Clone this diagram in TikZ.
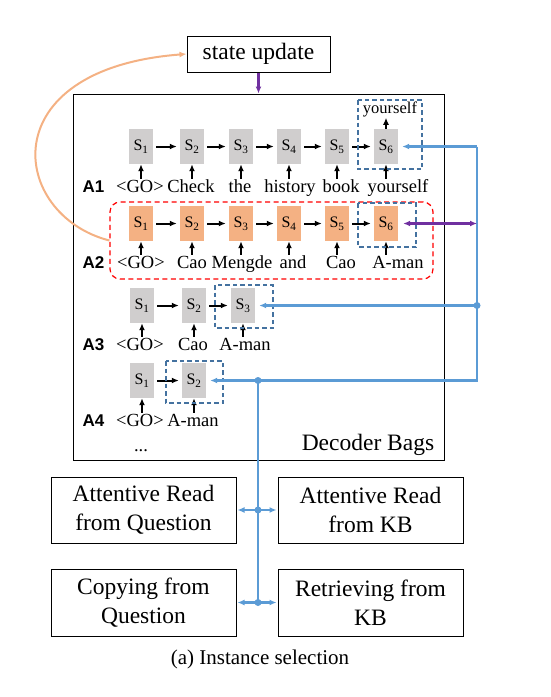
\documentclass[tikz,border=0pt]{standalone}
\usepackage{fontspec}
\setmainfont{Liberation Serif}
\newfontfamily\rowfont{Liberation Sans}
\usetikzlibrary{arrows.meta}

\definecolor{cellgray}{RGB}{208,206,206}
\definecolor{cellorange}{RGB}{244,177,131}
\definecolor{linkblue}{RGB}{91,155,213}
\definecolor{selblue}{RGB}{68,114,160}
\definecolor{updpurple}{RGB}{112,48,160}
\definecolor{loopred}{RGB}{255,0,0}

\begin{document}
\begin{tikzpicture}[> = {Latex[length = 7pt, width = 6pt]}, x = 1pt, y = -1pt,
	cell/.style = {fill = cellgray, minimum width = 24pt, minimum height = 35pt, inner sep = 0pt, font = \fontsize{16}{16}\selectfont},
	hot/.style = {cell, fill = cellorange},
	word/.style = {anchor = base, inner sep = 1pt, text height = 12pt, font = \fontsize{18.5}{20}\selectfont},
	rowlbl/.style = {anchor = base, inner sep = 0pt, font = \rowfont\bfseries\fontsize{17}{17}\selectfont},
	plain/.style = {draw, line width = 1pt, inner sep = 0pt, align = center, font = \fontsize{23.5}{29}\selectfont},
	link/.style = {->, line width = 2pt, shorten > = 3pt, shorten < = 3pt},
	feed/.style = {->, line width = 1.8pt},
	sel/.style = {selblue, line width = 1.5pt, dash pattern = on 4.5pt off 3pt},
	wire/.style = {linkblue, line width = 2.4pt}]

	\useasboundingbox (0, 0) rectangle (551, 697);

	% State update + decoder bags

	\node [plain, minimum width = 143pt, minimum height = 36pt] (upd) at (258.5, 54) {state update};
	\node [plain, minimum width = 371pt, minimum height = 366pt] (bags) at (258.5, 277) {};
	\node [anchor = base, inner sep = 0pt, font = \fontsize{23.5}{27}\selectfont] (baglbl) at (368, 450) {Decoder Bags};

	\draw [->, updpurple, line width = 2.4pt] (upd) -- (bags);

	% Row A1

	\node [rowlbl] (a1) at (93.5, 192) {A1};
	\foreach \x [count = \i] in {141, 192, 241, 289, 337, 386}
		\node [cell] (a1s\i) at (\x, 146.5) {S\textsubscript{\i}};
	\foreach \x/\w [count = \i] in {140/{<GO>}, 191/Check, 240/the, 290/history, 341/book, 398/yourself}
		\node [word] (a1w\i) at (\x, 192) {\w};
	\node [word, text height = 10pt, font = \fontsize{16.5}{18}\selectfont] (a1out) at (390, 113) {yourself};

	\foreach \i in {1, ..., 6}
		\draw [feed] (a1s\i.south |- a1w\i.north) -- (a1s\i.south);
	\foreach \i/\j in {1/2, 2/3, 3/4, 4/5, 5/6}
		\draw [link] (a1s\i) -- (a1s\j);
	\draw [feed] (a1s6.north) -- (a1s6.north |- a1out.south);

	% Row A2

	\node [draw = loopred, line width = 1.2pt, dash pattern = on 5pt off 3.5pt, rounded corners = 10pt,
		minimum width = 323pt, minimum height = 77pt] (a2bag) at (271.5, 240.5) {};
	\node [rowlbl] (a2) at (93.5, 268) {A2};
	\foreach \x [count = \i] in {141, 192, 241, 289, 337, 386}
		\node [hot] (a2s\i) at (\x, 223.5) {S\textsubscript{\i}};
	\foreach \x/\w [count = \i] in {141/{<GO>}, 192/Cao, 242/Mengde, 293/and, 341/Cao, 398/A-man}
		\node [word] (a2w\i) at (\x, 268) {\w};

	\foreach \i in {1, ..., 6}
		\draw [feed] (a2s\i.south |- a2w\i.north) -- (a2s\i.south);
	\foreach \i/\j in {1/2, 2/3, 3/4, 4/5, 5/6}
		\draw [link] (a2s\i) -- (a2s\j);

	% Rows A3 + A4

	\node [rowlbl] (a3) at (93.5, 350) {A3};
	\foreach \x [count = \i] in {142, 194, 243}
		\node [cell] (a3s\i) at (\x, 305.5) {S\textsubscript{\i}};
	\foreach \x/\w [count = \i] in {140/{<GO>}, 193/Cao, 245/A-man}
		\node [word] (a3w\i) at (\x, 350) {\w};

	\node [rowlbl] (a4) at (93.5, 426) {A4};
	\foreach \x [count = \i] in {142, 194}
		\node [cell] (a4s\i) at (\x, 380.5) {S\textsubscript{\i}};
	\foreach \x/\w [count = \i] in {140/{<GO>}, 193/A-man}
		\node [word] (a4w\i) at (\x, 426) {\w};
	\node [word] (a5) at (141, 451) {...};

	\foreach \i in {1, 2, 3}
		\draw [feed] (a3s\i.south |- a3w\i.north) -- (a3s\i.south);
	\foreach \i in {1, 2}
		\draw [feed] (a4s\i.south |- a4w\i.north) -- (a4s\i.south);
	\draw [link] (a3s1) -- (a3s2);
	\draw [link] (a3s2) -- (a3s3);
	\draw [link] (a4s1) -- (a4s2);

	% Selected instances

	\draw [sel] (358, 100) rectangle (422, 169);
	\draw [sel] (358, 203) rectangle (416, 247);
	\draw [sel] (215, 285) rectangle (273, 328);
	\draw [sel] (166, 361) rectangle (223, 403);

	% Loop back to the state update

	\draw [->, cellorange, line width = 2pt] (a2bag.west) .. controls (10, 215) and (-10, 69) .. (upd.west);

	% Read / copy / retrieve modules

	\node [plain, minimum width = 185pt, minimum height = 66pt] (arq) at (143.5, 510) {Attentive Read\\from Question};
	\node [plain, minimum width = 185pt, minimum height = 66pt] (ark) at (370.5, 510) {Attentive Read\\from KB};
	\node [plain, minimum width = 185pt, minimum height = 67pt] (cpq) at (143.5, 602.5) {Copying from\\Question};
	\node [plain, minimum width = 185pt, minimum height = 67pt] (rtk) at (370.5, 602.5) {Retrieving from\\KB};

	\node [font = \fontsize{21}{24}\selectfont] (cap) at (260, 659) {(a) Instance selection};

	% Blue wiring

	\coordinate (hub1) at (477, 146.5);
	\coordinate (hub2) at (477, 223.5);
	\coordinate (hub3) at (477, 305.5);
	\coordinate (hub4) at (477, 380.5);
	\coordinate (hub5) at (258, 380.5);
	\coordinate (hub6) at (258, 510);
	\coordinate (hub7) at (258, 602.5);

	\draw [wire] (hub1) -- (hub4) -- (hub5) -- (hub7);
	\draw [wire, ->, shorten > = 4pt] (hub1) -- (a1s6.east);
	\draw [wire, ->, shorten > = 4pt] (hub3) -- (a3s3.east);
	\draw [wire, ->, shorten > = 4pt] (hub5) -- (a4s2.east);
	\draw [wire, <->, shorten > = 1pt, shorten < = 1pt] (arq) -- (ark);
	\draw [wire, <->, shorten > = 1pt, shorten < = 1pt] (cpq) -- (rtk);
	\foreach \h in {hub3, hub5, hub6, hub7}
		\fill [linkblue] (\h) circle (3.5pt);

	\draw [<->, updpurple, line width = 2.4pt, shorten < = 5pt] (a2s6.east) -- (hub2);

\end{tikzpicture}
\end{document}
